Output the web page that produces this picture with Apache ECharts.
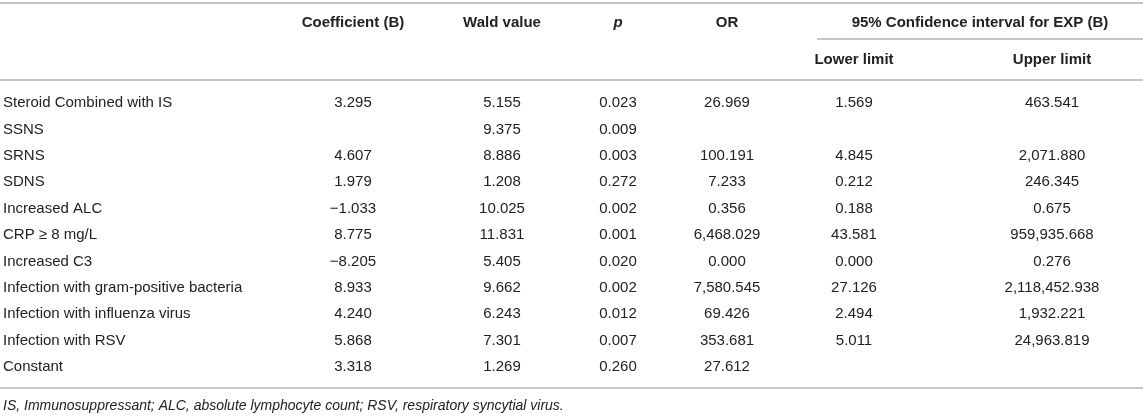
<!DOCTYPE html>
<html lang="en" style="height: 100%">

<head>
  <meta charset="utf-8">
</head>

<body style="height: 100%; margin: 0; background: #fff">
  <div id="container" style="height: 100%"></div>

  <script type="text/javascript" src="https://fastly.jsdelivr.net/npm/echarts@6.0.0/dist/echarts.min.js"></script>

  <script type="text/javascript">
    // table content
    var rowLabels = [
      'Steroid Combined with IS', 'SSNS', 'SRNS', 'SDNS', 'Increased ALC',
      'CRP \u2265 8 mg/L', 'Increased C3', 'Infection with gram-positive bacteria',
      'Infection with influenza virus', 'Infection with RSV', 'Constant'
    ];
    var coef = [3.295, null, 4.607, 1.979, -1.033, 8.775, -8.205, 8.933, 4.240, 5.868, 3.318];
    var wald = [5.155, 9.375, 8.886, 1.208, 10.025, 11.831, 5.405, 9.662, 6.243, 7.301, 1.269];
    var pValue = [0.023, 0.009, 0.003, 0.272, 0.002, 0.001, 0.020, 0.002, 0.012, 0.007, 0.260];
    var oddsRatio = [26.969, null, 100.191, 7.233, 0.356, 6468.029, 0.000, 7580.545, 69.426, 353.681, 27.612];
    var lowerLimit = [1.569, null, 4.845, 0.212, 0.188, 43.581, 0.000, 27.126, 2.494, 5.011, null];
    var upperLimit = [463.541, null, 2071.880, 246.345, 0.675, 959935.668, 0.276, 2118452.938, 1932.221, 24963.819, null];

    var headerTop = ['Coefficient (B)', 'Wald value', 'p', 'OR'];
    var groupHeader = '95% Confidence interval for EXP (B)';
    var headerSub = ['Lower limit', 'Upper limit'];
    var footnote = 'IS, Immunosuppressant; ALC, absolute lymphocyte count; RSV, respiratory syncytial virus.';

    var columns = [coef, wald, pValue, oddsRatio, lowerLimit, upperLimit];

    // layout (pixels / axis units)
    var colX = [353, 502, 618, 727, 854, 1052];
    var W = 1143;
    var FONT = '"Liberation Sans", Arial, Helvetica, sans-serif';
    var TEXT = '#222';
    var RULE = '#b4b4b4';

    var fmt = new Intl.NumberFormat('en-US', { minimumFractionDigits: 3, maximumFractionDigits: 3 });
    function show(v) {
      if (v === null || v === undefined) return '';
      return fmt.format(v).replace('-', '\u2212');
    }

    var cells = [];
    rowLabels.forEach(function (lab, r) {
      cells.push([-1, r]);
      columns.forEach(function (col, c) {
        if (col[r] !== null) cells.push([c, r]);
      });
    });

    var dom = document.getElementById('container');
    var myChart = echarts.init(dom, null, { renderer: 'canvas' });

    function rule(y, x1, x2) {
      return {
        type: 'line',
        shape: { x1: x1, y1: y, x2: x2, y2: y },
        style: { stroke: RULE, lineWidth: 1.5 },
        silent: true
      };
    }
    function headText(text, x, y, italic) {
      return {
        type: 'text',
        x: x, y: y,
        style: {
          text: text, fill: TEXT, font: (italic ? 'italic ' : '') + 'bold 15px ' + FONT,
          align: 'center', verticalAlign: 'middle'
        },
        silent: true
      };
    }

    var graphics = [
      rule(3, 0, W), rule(39, 817, W), rule(80, 0, W), rule(388, 0, W)
    ];
    headerTop.forEach(function (h, i) {
      graphics.push(headText(h, colX[i], 23, h === 'p'));
    });
    graphics.push(headText(groupHeader, 980, 23));
    headerSub.forEach(function (h, i) {
      graphics.push(headText(h, colX[4 + i], 60));
    });
    graphics.push({
      type: 'text', x: 3, y: 406,
      style: { text: footnote, fill: TEXT, font: 'italic 14px ' + FONT, align: 'left', verticalAlign: 'middle' },
      silent: true
    });

    var option = {
      animation: false,
      grid: { left: 0, right: 0, top: 89.8, bottom: 35.8 },
      xAxis: { type: 'value', min: 0, max: W, show: false },
      yAxis: { type: 'category', data: rowLabels, inverse: true, show: false },
      graphic: graphics,
      series: [{
        type: 'custom',
        coordinateSystem: 'cartesian2d',
        data: cells,
        renderItem: function (params, api) {
          var c = api.value(0), r = api.value(1);
          var isLabel = c < 0;
          var pt = api.coord([isLabel ? 3 : colX[c], r]);
          return {
            type: 'text',
            x: pt[0], y: pt[1],
            style: {
              text: isLabel ? rowLabels[r] : show(columns[c][r]),
              fill: TEXT,
              font: '15px ' + FONT,
              align: isLabel ? 'left' : 'center',
              verticalAlign: 'middle'
            }
          };
        }
      }]
    };

    myChart.setOption(option);
    window.addEventListener('resize', myChart.resize);
  </script>
</body>

</html>
